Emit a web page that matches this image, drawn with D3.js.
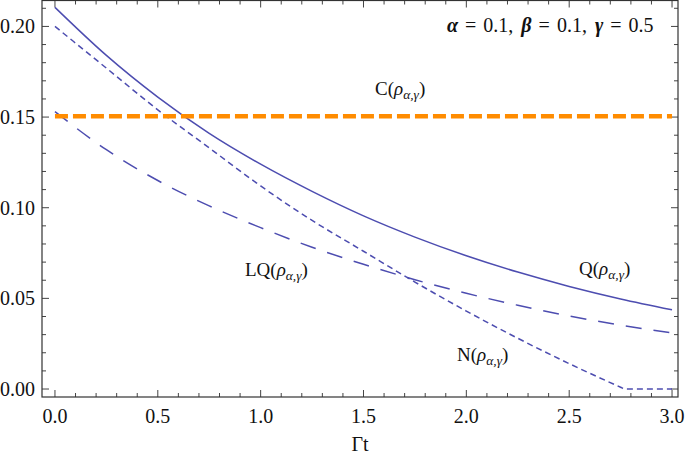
<!DOCTYPE html>
<html lang="en">
<head>
  <meta charset="UTF-8">
  <title>Quantum correlations vs time</title>
  <script src="https://d3js.org/d3.v7.min.js"></script>
  <style>
    body { margin: 0; background: #fff; }
    text { font-family: "Liberation Serif", "Times New Roman", serif; fill: #111; }
    .frame { fill: none; stroke: #333; stroke-width: 1.2px; }
    .tick line { stroke: #444; stroke-width: 1px; }
    .curve { fill: none; stroke: #4d4db0; stroke-width: 1.5px; }
  </style>
</head>
<body>
<script>
  // values
  const tValues  = [0, 0.25, 0.5, 0.75, 1.0, 1.25, 1.5, 1.75, 2.0, 2.25, 2.5, 2.75, 3.0];
  const qValues  = [0.2105, 0.184, 0.161, 0.141, 0.124, 0.109, 0.0955, 0.0838, 0.0735, 0.0645, 0.0566, 0.0497, 0.0437];
  const lqValues = [0.153, 0.132, 0.115, 0.101, 0.089, 0.0782, 0.0688, 0.0603, 0.0528, 0.0462, 0.0403, 0.0352, 0.031];
  const nT       = [0, 0.25, 0.5, 0.75, 1.0, 1.25, 1.5, 1.75, 2.0, 2.25, 2.5, 2.75, 2.77, 3.0];
  const nValues  = [0.200, 0.177, 0.154, 0.133, 0.112, 0.093, 0.076, 0.059, 0.043, 0.028, 0.014, 0.001, 0, 0];
  const cValue   = 0.1505;
  const xTicks   = [0, 0.5, 1.0, 1.5, 2.0, 2.5, 3.0];
  const yTicks   = [0, 0.05, 0.10, 0.15, 0.20];

  const W = 685, H = 456;
  const pLeft = 42, pRight = 678, pTop = 0.5, pBottom = 397;
  const fs = 20;

  const svg = d3.select("body").append("svg")
    .attr("width", W)
    .attr("height", H);

  const x = d3.scaleLinear().domain([-0.063, 3.029]).range([pLeft, pRight]);
  const y = d3.scaleLinear().domain([-0.0044, 0.2143]).range([pBottom, pTop]);

  // ticks: minor + major, on all four sides, pointing inward
  const xMinor = d3.range(0, 3.001, 0.1);
  const yMinor = d3.range(0, 0.2101, 0.01);
  const isMajor = (v, arr) => arr.some(a => Math.abs(a - v) < 1e-6);

  const tg = svg.append("g").attr("class", "tick");
  xMinor.forEach(v => {
    const len = isMajor(v, xTicks) ? 7 : 4;
    tg.append("line").attr("x1", x(v)).attr("x2", x(v)).attr("y1", pBottom).attr("y2", pBottom - len);
    tg.append("line").attr("x1", x(v)).attr("x2", x(v)).attr("y1", pTop).attr("y2", pTop + len);
  });
  yMinor.forEach(v => {
    const len = isMajor(v, yTicks) ? 7 : 4;
    tg.append("line").attr("x1", pLeft).attr("x2", pLeft + len).attr("y1", y(v)).attr("y2", y(v));
    tg.append("line").attr("x1", pRight).attr("x2", pRight - len).attr("y1", y(v)).attr("y2", y(v));
  });

  // tick labels
  svg.append("g").selectAll("text")
    .data(xTicks)
    .enter().append("text")
    .attr("x", d => x(d))
    .attr("y", 423)
    .attr("text-anchor", "middle")
    .attr("font-size", fs)
    .text(d => d3.format(".1f")(d));

  svg.append("g").selectAll("text")
    .data(yTicks)
    .enter().append("text")
    .attr("x", 35)
    .attr("y", d => y(d) + 7)
    .attr("text-anchor", "end")
    .attr("font-size", fs)
    .text(d => d3.format(".2f")(d));

  svg.append("text")
    .attr("x", (pLeft + pRight) / 2)
    .attr("y", 451)
    .attr("text-anchor", "middle")
    .attr("font-size", fs)
    .text("Γt");

  // curves
  const line = d3.line()
    .x(d => x(d[0]))
    .y(d => y(d[1]))
    .curve(d3.curveMonotoneX);

  const plot = svg.append("g");

  plot.append("path")
    .datum(tValues.map((t, i) => [t, lqValues[i]]))
    .attr("class", "curve")
    .attr("stroke-dasharray", "16,12")
    .attr("d", line);

  plot.append("path")
    .datum(nT.map((t, i) => [t, nValues[i]]))
    .attr("class", "curve")
    .attr("stroke-width", 1.3)
    .attr("stroke-dasharray", "6,4")
    .attr("d", line);

  plot.append("path")
    .datum(tValues.map((t, i) => [t, qValues[i]]))
    .attr("class", "curve")
    .attr("d", line);

  plot.append("line")
    .attr("x1", x(0)).attr("x2", x(3))
    .attr("y1", y(cValue)).attr("y2", y(cValue))
    .attr("stroke", "#ff8c00")
    .attr("stroke-width", 4.5)
    .attr("stroke-dasharray", "13,5");

  // frame
  svg.append("rect")
    .attr("class", "frame")
    .attr("x", pLeft).attr("y", pTop)
    .attr("width", pRight - pLeft).attr("height", pBottom - pTop);

  // curve labels
  function label(name, px, py) {
    const t = svg.append("text").attr("x", px).attr("y", py).attr("font-size", fs - 1);
    t.append("tspan").text(name + "(");
    t.append("tspan").attr("font-style", "italic").text("ρ");
    t.append("tspan").attr("font-style", "italic").attr("font-size", 13.5).attr("dy", 4).text("α,γ");
    t.append("tspan").attr("dy", -4).text(")");
  }
  label("C", 375, 95);
  label("LQ", 245, 276);
  label("Q", 579, 275);
  label("N", 457, 361);

  // parameter annotation
  const ann = svg.append("text").attr("x", 447).attr("y", 32).attr("font-size", 20);
  [["α", "=", "0.1,"], ["β", "=", "0.1,"], ["γ", "=", "0.5"]].forEach((p, i) => {
    ann.append("tspan").attr("dx", i ? 8 : 0).attr("font-style", "italic").attr("font-weight", "bold").text(p[0]);
    ann.append("tspan").attr("dx", 7).text(p[1]);
    ann.append("tspan").attr("dx", 7).text(p[2]);
  });
</script>
</body>
</html>
